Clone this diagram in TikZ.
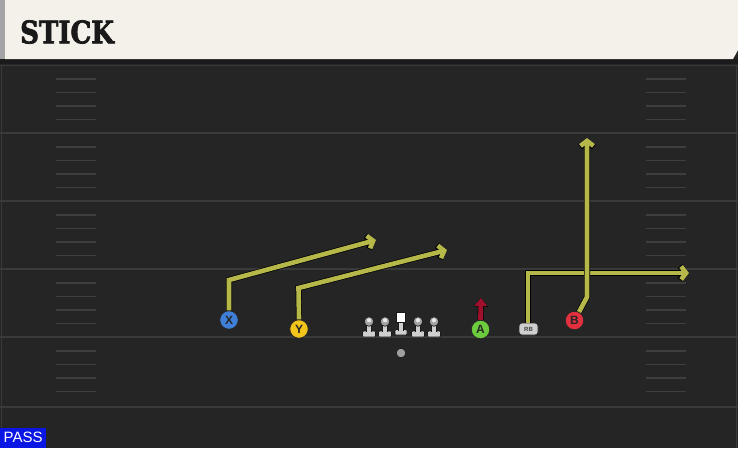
\documentclass[tikz,border=0pt]{standalone}
\usepackage{fontspec}
\setmainfont{Liberation Sans}
\newfontfamily\titlefont{DejaVu Serif}[UprightFont=* Bold, UprightFeatures={FakeBold=2.5}]
\usetikzlibrary{arrows.meta}
\definecolor{fieldc}{HTML}{252525}
\definecolor{headc}{HTML}{F4F1EA}
\definecolor{stripec}{HTML}{A4A4A4}
\definecolor{bandc}{HTML}{1B1B1B}
\definecolor{yardc}{HTML}{3A3A3A}
\definecolor{hashc}{HTML}{3E3E3E}
\definecolor{routec}{HTML}{B6B84A}
\definecolor{redarr}{HTML}{A0102C}
\definecolor{passc}{HTML}{0A16E4}
\definecolor{xc}{HTML}{3F7FD8}
\definecolor{yc}{HTML}{F2C41C}
\definecolor{ac}{HTML}{6DCB3E}
\definecolor{bc}{HTML}{E2303E}
\definecolor{linec}{HTML}{CFCFCF}
\definecolor{headg}{HTML}{A2A2A2}
\tikzset{
  yard/.style={draw=yardc, line width=1.8pt},
  hash/.style={draw=hashc, line width=1.6pt},
  player/.style={circle, draw=black!85, line width=0.8pt, minimum size=18.5pt, inner sep=0pt,
    font=\fontsize{12}{12}\selectfont\bfseries, text=black!85},
  route/.style={draw=routec, line width=4.6pt, line join=miter,
    -{Straight Barb[length=5pt,width=13pt]},
    preaction={draw=black, line width=6pt, -{Straight Barb[length=5.2pt,width=13.8pt]}}},
  lmbody/.style={fill=linec, draw=black!90, line width=0.7pt},
}
\begin{document}
\begin{tikzpicture}[x=1pt,y=-1pt]
\useasboundingbox (0,0) rectangle (738,448);
% field
\fill[fieldc] (0,0) rectangle (738,448);
\fill[bandc] (0,59) rectangle (738,64);
\draw[yardc, line width=1pt] (0,65) -- (738,65);
\draw[yardc, line width=1pt] (1,65) -- (1,448);
\draw[yardc, line width=1pt] (736.5,65) -- (736.5,448);
% header
\fill[headc] (5,0) -- (738,0) -- (738,50) -- (733,59) -- (5,59) -- cycle;
\fill[stripec] (0,0) rectangle (5,59);
\node[anchor=west, inner sep=0pt, text=black!90] (title) at (20,32)
  {\scalebox{0.84}[1]{\titlefont\fontsize{31}{31}\selectfont STICK}};
% yard lines
\foreach \b in {133,201,269,337,407} \draw[yard] (0,\b) -- (738,\b);
% hash marks
\foreach \b in {65,133,201,269,337} \foreach \o in {14,27.5,41,54.5} {
  \draw[hash] (56,{\b+\o}) -- (96,{\b+\o});
  \draw[hash] (646,{\b+\o}) -- (686,{\b+\o});
}
% offensive line
\foreach \x in {369,385,418,434} {
  \filldraw[lmbody, rounded corners=1pt] (\x-6.5,331) rectangle (\x+6.5,337);
  \filldraw[lmbody] (\x-2.8,324) rectangle (\x+2.8,331.5);
  \fill[linec] (\x-2.4,330) rectangle (\x+2.4,332);
  \filldraw[fill=headg, draw=black!90, line width=0.7pt] (\x,321.5) circle (4.8);
  \fill[white!75!headg] (\x,320.3) circle (2.1);
}
\filldraw[lmbody, rounded corners=1pt] (395,329.5) rectangle (407,335);
\filldraw[lmbody] (398.5,321) rectangle (403.5,330);
\fill[linec] (398.9,329) rectangle (403.1,331);
\filldraw[fill=white, draw=black!90, line width=0.7pt] (396.5,312.5) rectangle (405.5,322);
\node[circle, fill=gray!75, draw=black!90, line width=0.6pt, minimum size=9.5pt, inner sep=0pt] (QB) at (401,353) {};
% players
\node[player, fill=xc] (X) at (229,320) {X};
\node[player, fill=yc] (Y) at (299,329) {Y};
\node[player, fill=ac] (A) at (480.5,329.5) {A};
\node[player, fill=bc] (B) at (574.5,320.5) {B};
\node[rectangle, rounded corners=3pt, fill=linec, draw=black!85, line width=0.7pt,
  minimum width=19pt, minimum height=12pt, inner sep=0pt,
  font=\fontsize{6}{6}\selectfont\bfseries, text=black!75] (RB) at (528.5,329) {RB};
% route coordinates
\coordinate (Xc) at (229,280);
\coordinate (Xe) at (376,240);
\coordinate (Yc) at (298.5,288);
\coordinate (Ye) at (447,250);
\coordinate (Rc) at (528,273);
\coordinate (Re) at (689,273);
\coordinate (Bc) at (587,297);
\coordinate (Be) at (587,138);
\coordinate (Ae) at (481,298);
% routes
\draw[route] (X.north) -- (Xc) -- (Xe);
\draw[route] (Y.north) -- (Yc) -- (Ye);
\draw[route] (RB.north -| Rc) -- (Rc) -- (Re);
\draw[route] (B) -- (Bc) -- (Be);
\draw[draw=redarr, line width=4.8pt, -{Triangle[length=8pt,width=12.5pt]},
  preaction={draw=black, line width=6pt, -{Triangle[length=8.6pt,width=13.8pt]}}] (A.north) -- (Ae);
% pass label
\node[anchor=south west, fill=passc, minimum width=46pt, minimum height=20pt, inner sep=0pt,
  text=white, font=\fontsize{15}{15}\selectfont] (pass) at (0,448) {PASS};
\end{tikzpicture}
\end{document}
